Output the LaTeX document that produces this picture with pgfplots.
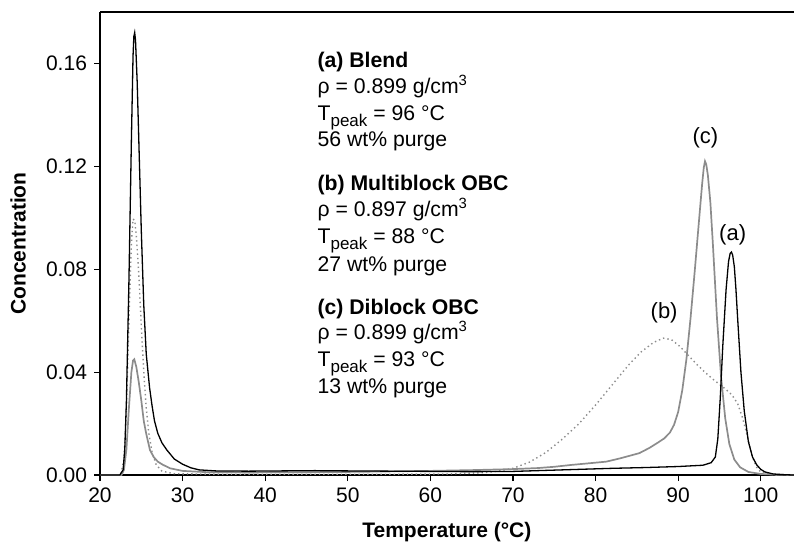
\documentclass[border=0pt]{standalone}
\usepackage{fontspec}
\setmainfont{Liberation Sans}
\usepackage{pgfplots}
\pgfplotsset{compat=1.18}

\definecolor{curvegray}{gray}{0.55}

% Elution profiles: temperature (deg C) vs. concentration
\pgfplotstableread{
T C
20 0
22.4 0
22.8 0.002
23.0 0.010
23.2 0.029
23.5 0.075
23.8 0.130
24.0 0.163
24.1 0.1705
24.2 0.172
24.3 0.169
24.5 0.153
24.7 0.130
25.0 0.095
25.3 0.066
25.6 0.047
26.0 0.034
26.3 0.027
26.6 0.021
27.0 0.0162
27.5 0.0125
28.1 0.0097
29.0 0.0062
30.0 0.0042
31.0 0.0028
32.0 0.0020
34.0 0.0016
38.0 0.0015
42.0 0.0016
46.0 0.0017
50.0 0.0016
55.0 0.0015
60.0 0.0014
65.0 0.0013
70.0 0.0014
74.0 0.0018
78.0 0.0022
82.0 0.0026
86.0 0.0029
90.0 0.0033
93.0 0.0038
94.0 0.0048
94.5 0.0070
94.8 0.0140
95.1 0.0300
95.4 0.0500
95.8 0.0720
96.1 0.0830
96.3 0.0862
96.45 0.0867
96.6 0.0855
96.8 0.0810
97.0 0.0720
97.2 0.0610
97.6 0.0400
98.0 0.0250
98.5 0.0130
99.0 0.0070
99.5 0.0040
100.0 0.0022
100.5 0.0012
101.5 0.0004
103.0 0.0001
104.0 0
}\blend

\pgfplotstableread{
T C
20 0
22.5 0
22.9 0.006
23.2 0.025
23.5 0.060
23.8 0.090
24.0 0.0995
24.2 0.0990
24.4 0.093
24.7 0.078
25.0 0.058
25.3 0.040
25.6 0.026
25.9 0.0165
26.3 0.0090
26.8 0.0040
27.5 0.0015
29.0 0.0005
35 0.0003
45 0.0003
55 0.0003
62 0.0004
66 0.0008
68 0.0014
70 0.0026
72 0.0050
74 0.0088
76 0.0140
78 0.0200
80 0.0272
82 0.0350
84 0.0428
85.5 0.0478
87 0.0515
88.2 0.0532
89.2 0.0526
90.2 0.0500
91.2 0.0466
92.2 0.0432
93.3 0.0398
94.3 0.0370
95.2 0.0348
95.8 0.0332
96.5 0.0312
97.2 0.0278
97.8 0.0222
98.4 0.0148
99.0 0.0070
99.5 0.0030
100.0 0.0012
101.0 0.0003
102.0 0
}\multiblock

\pgfplotstableread{
T C
20 0
22.6 0
22.9 0.002
23.2 0.010
23.5 0.026
23.8 0.040
24.0 0.0445
24.15 0.045
24.4 0.042
24.7 0.036
25.0 0.029
25.3 0.021
25.6 0.016
26.05 0.0097
26.5 0.0070
27.0 0.0052
27.6 0.0040
28.5 0.0026
30 0.0016
33 0.0011
38 0.0010
45 0.0011
50 0.0012
55 0.0014
60 0.0016
65 0.0019
70 0.0023
73 0.0027
75 0.0032
77 0.0039
79 0.0045
81.3 0.0052
83 0.0065
85.3 0.0085
86.5 0.0105
87.5 0.0125
88.3 0.0142
89.0 0.0165
89.5 0.0195
90.0 0.0245
90.5 0.0330
91.0 0.0450
91.5 0.0610
92.0 0.0790
92.5 0.0980
92.9 0.1130
93.1 0.1195
93.25 0.1220
93.4 0.1208
93.6 0.1165
93.9 0.1060
94.2 0.0900
94.7 0.0610
95.2 0.0380
95.7 0.0220
96.2 0.0120
96.8 0.0060
97.5 0.0030
98.5 0.0012
100.0 0.0004
102 0.0001
104 0
}\diblock

\begin{document}
\begin{tikzpicture}
\begin{axis}[
  scale only axis,
  width=346.9pt, height=231.5pt,
  xmin=20, xmax=104, ymin=0, ymax=0.18,
  axis x line*=bottom, axis y line*=left,
  axis line style={line width=0.75pt, -},
  clip=false,
  xtick={20,30,40,50,60,70,80,90,100},
  ytick={0,0.04,0.08,0.12,0.16},
  tick align=outside, major tick length=3pt,
  tick style={line width=0.6pt, black},
  /pgf/number format/assume math mode=true,
  yticklabel style={/pgf/number format/.cd, fixed, fixed zerofill, precision=2},
  ticklabel style={font=\fontsize{10.5}{12}\selectfont},
  xlabel={Temperature (°C)}, ylabel={Concentration},
  label style={font=\fontsize{10.5}{12}\selectfont\bfseries},
  xlabel style={at={(axis description cs:0.5,-0.1231)}, anchor=center},
  ylabel style={at={(axis description cs:-0.1182,0.5)}, anchor=center, rotate=0},
]
\coordinate (SW) at (rel axis cs:0,0);

\addplot[curvegray, line width=0.7pt, dash pattern=on 0.7pt off 1.5pt] table[x=T, y=C] {\multiblock};
\addplot[curvegray, line width=0.85pt] table[x=T, y=C] {\diblock};
\addplot[black, line width=0.65pt] table[x=T, y=C] {\blend};

\draw[line width=0.75pt] (rel axis cs:0,1) -- (rel axis cs:1,1);

% peak labels
\node[font=\fontsize{11}{13}\selectfont] at (axis cs:93.3,0.131) {(c)};
\node[font=\fontsize{11}{13}\selectfont] at (axis cs:96.6,0.0932) {(a)};
\node[font=\fontsize{11}{13}\selectfont] at (axis cs:88.3,0.063) {(b)};

% sample descriptions
\begin{scope}[every node/.style={anchor=base west, inner sep=0pt, font=\fontsize{10.6}{12}\selectfont}]
\node at (axis cs:46.3,0.1584) {\textbf{(a) Blend}};
\node at (axis cs:46.3,0.1483) {ρ = 0.899 g/cm\textsuperscript{3}};
\node at (axis cs:46.3,0.1379) {T\raisebox{-0.55ex}{\fontsize{8.5}{9}\selectfont peak} = 96 °C};
\node at (axis cs:46.3,0.1278) {56 wt\% purge};
\node at (axis cs:46.3,0.1107) {\textbf{(b) Multiblock OBC}};
\node at (axis cs:46.3,0.1006) {ρ = 0.897 g/cm\textsuperscript{3}};
\node at (axis cs:46.3,0.0901) {T\raisebox{-0.55ex}{\fontsize{8.5}{9}\selectfont peak} = 88 °C};
\node at (axis cs:46.3,0.0792) {27 wt\% purge};
\node at (axis cs:46.3,0.0625) {\textbf{(c) Diblock OBC}};
\node at (axis cs:46.3,0.0528) {ρ = 0.899 g/cm\textsuperscript{3}};
\node at (axis cs:46.3,0.0423) {T\raisebox{-0.55ex}{\fontsize{8.5}{9}\selectfont peak} = 93 °C};
\node at (axis cs:46.3,0.0315) {13 wt\% purge};
\end{scope}
\end{axis}
\pgfresetboundingbox
\useasboundingbox ([shift={(-50pt,-34pt)}]SW) rectangle ([shift={(348pt,237.5pt)}]SW);
\end{tikzpicture}
\end{document}
